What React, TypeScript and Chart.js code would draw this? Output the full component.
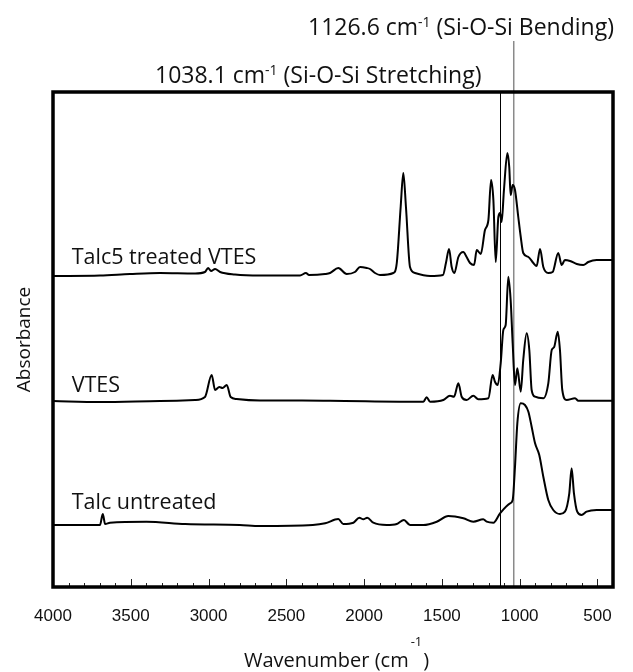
import React, { useEffect, useRef } from 'react';
import { Chart, registerables } from 'chart.js';

Chart.register(...registerables);

// Wavenumber (cm-1) and absorbance (arbitrary, offset)
const talc5Wavenumber = [4000, 3698, 3505, 3312, 3087, 3023, 3003, 2984, 2958, 2926, 2830, 2669, 2412, 2374, 2354, 2251, 2219, 2166, 2112, 2059, 2026, 1983, 1962, 1930, 1898, 1812, 1790, 1765, 1748, 1731, 1705, 1673, 1576, 1493, 1474, 1454, 1437, 1420, 1394, 1362, 1341, 1319, 1293, 1276, 1250, 1223, 1201, 1184, 1169, 1154, 1137, 1126, 1116, 1101, 1079, 1067, 1058, 1045, 1030, 1009, 993, 977, 944, 912, 891, 869, 848, 816, 788, 752, 730, 709, 676, 633, 591, 559, 505, 400];
const talc5Absorbance = [3.11, 3.115, 3.13, 3.14, 3.135, 3.15, 3.19, 3.16, 3.18, 3.15, 3.125, 3.115, 3.115, 3.14, 3.12, 3.13, 3.14, 3.19, 3.13, 3.15, 3.2, 3.19, 3.18, 3.14, 3.12, 3.14, 3.24, 3.8, 4.14, 3.8, 3.2, 3.14, 3.11, 3.12, 3.24, 3.38, 3.2, 3.14, 3.3, 3.35, 3.3, 3.24, 3.22, 3.37, 3.33, 3.57, 3.67, 4.07, 3.87, 3.25, 3.7, 3.74, 3.65, 3.97, 4.34, 4.2, 3.92, 4.02, 3.97, 3.7, 3.5, 3.34, 3.3, 3.24, 3.21, 3.38, 3.2, 3.14, 3.15, 3.34, 3.22, 3.27, 3.26, 3.23, 3.22, 3.25, 3.27, 3.27];

const vtesWavenumber = [4000, 3698, 3312, 3087, 3023, 2980, 2958, 2931, 2910, 2883, 2858, 2820, 2669, 2400, 2219, 1619, 1598, 1576, 1491, 1448, 1422, 1394, 1373, 1341, 1298, 1266, 1201, 1174, 1159, 1141, 1122, 1105, 1090, 1073, 1058, 1045, 1030, 1015, 993, 977, 955, 938, 923, 901, 848, 816, 794, 779, 755, 741, 726, 698, 644, 623, 400];
const vtesAbsorbance = [1.86, 1.85, 1.86, 1.87, 1.9, 2.12, 1.97, 2.0, 1.99, 2.02, 1.9, 1.88, 1.865, 1.865, 1.863, 1.853, 1.897, 1.853, 1.87, 1.913, 1.903, 2.037, 1.903, 1.87, 1.913, 1.877, 1.887, 2.12, 2.053, 2.02, 2.237, 2.57, 2.62, 3.103, 2.87, 2.437, 2.02, 2.187, 1.953, 2.27, 2.537, 2.37, 1.97, 1.903, 1.887, 2.037, 2.37, 2.397, 2.553, 2.37, 1.97, 1.87, 1.887, 1.863, 1.863];

const talcWavenumber = [4000, 3698, 3680, 3665, 3634, 3400, 3150, 2800, 2669, 2330, 2250, 2166, 2134, 2069, 2031, 2005, 1980, 1941, 1855, 1790, 1744, 1705, 1619, 1533, 1459, 1362, 1298, 1234, 1212, 1169, 1126, 1062, 1045, 1030, 1015, 993, 966, 944, 923, 901, 874, 848, 816, 784, 741, 709, 681, 666, 651, 630, 602, 570, 505, 400];
const talcAbsorbance = [0.62, 0.62, 0.73, 0.63, 0.643, 0.653, 0.63, 0.62, 0.61, 0.62, 0.637, 0.68, 0.63, 0.643, 0.693, 0.677, 0.693, 0.643, 0.62, 0.63, 0.67, 0.62, 0.62, 0.653, 0.71, 0.687, 0.653, 0.677, 0.653, 0.643, 0.737, 0.837, 0.87, 1.203, 1.637, 1.837, 1.82, 1.753, 1.603, 1.437, 1.32, 1.103, 0.87, 0.77, 0.73, 0.753, 0.937, 1.187, 0.937, 0.753, 0.72, 0.753, 0.77, 0.77];

const seriesNames = ['Talc5 treated VTES', 'VTES', 'Talc untreated'];
// label anchor (wavenumber, absorbance) for each curve's name
const labelWavenumber = [3880, 3880, 3880];
const labelAbsorbance = [3.23, 1.95, 0.78];

const bendingWavenumber = 1126.6;
const stretchingWavenumber = 1038.1;
const xTickLabels = [4000, 3500, 3000, 2500, 2000, 1500, 1000, 500];

const LABEL_FONT = '"Open Sans", "Noto Sans", sans-serif';

function toPoints(xs: number[], ys: number[]) {
  return xs.map((x, i) => ({ x, y: ys[i] }));
}

function drawSupText(ctx: CanvasRenderingContext2D, x: number, y: number, parts: [string, boolean][], size: number, supSize: number, supRise: number) {
  let cx = x;
  for (const [t, sup] of parts) {
    ctx.font = `${sup ? supSize : size}px ${LABEL_FONT}`;
    ctx.fillText(t, cx, sup ? y - supRise : y);
    cx += ctx.measureText(t).width;
  }
}

const overlayPlugin = {
  id: 'overlay',
  beforeDatasetsDraw(chart: any) {
    const { ctx, chartArea, scales } = chart;
    const x = scales.x;
    ctx.save();
    const xb = x.getPixelForValue(bendingWavenumber);
    ctx.strokeStyle = '#000';
    ctx.lineWidth = 1;
    ctx.beginPath();
    ctx.moveTo(Math.round(xb) + 0.5, chartArea.top);
    ctx.lineTo(Math.round(xb) + 0.5, chartArea.bottom);
    ctx.stroke();
    const xs = x.getPixelForValue(stretchingWavenumber);
    ctx.strokeStyle = '#8a8a8a';
    ctx.lineWidth = 1.5;
    ctx.beginPath();
    ctx.moveTo(xs, 41);
    ctx.lineTo(xs, chartArea.bottom);
    ctx.stroke();
    ctx.restore();
  },
  afterDraw(chart: any) {
    const { ctx, chartArea, scales } = chart;
    const x = scales.x;
    const y = scales.y;
    const { left, right, top, bottom } = chartArea;
    ctx.save();
    ctx.strokeStyle = '#222';
    ctx.lineWidth = 1;
    for (const t of x.ticks) {
      const px = Math.round(x.getPixelForValue(t.value)) + 0.5;
      const major = t.value % 500 === 0;
      ctx.beginPath();
      ctx.moveTo(px, bottom);
      ctx.lineTo(px, bottom - (major ? 8 : 4));
      ctx.stroke();
    }
    ctx.strokeStyle = '#000';
    ctx.lineWidth = 3.5;
    ctx.strokeRect(left, top, right - left, bottom - top);

    ctx.fillStyle = '#111';
    ctx.textBaseline = 'alphabetic';
    ctx.textAlign = 'left';
    ctx.font = `21.5px ${LABEL_FONT}`;
    seriesNames.forEach((n, i) => {
      ctx.fillText(n, x.getPixelForValue(labelWavenumber[i]), y.getPixelForValue(labelAbsorbance[i]));
    });

    drawSupText(ctx, 308, 35, [['1126.6 cm', false], ['-1', true], [' (Si-O-Si Bending)', false]], 23, 14, 8);
    drawSupText(ctx, 155, 83, [['1038.1 cm', false], ['-1', true], [' (Si-O-Si Stretching)', false]], 23, 14, 8);

    ctx.font = `20px ${LABEL_FONT}`;
    ctx.fillText('Wavenumber (cm', 244, 667);
    const w = ctx.measureText('Wavenumber (cm').width;
    ctx.font = `13px ${LABEL_FONT}`;
    ctx.fillText('-1', 244 + w + 2, 646);
    const w2 = ctx.measureText('-1').width;
    ctx.font = `20px ${LABEL_FONT}`;
    ctx.fillText(')', 244 + w + w2 + 3, 667);
    ctx.restore();
  },
};

export default function App() {
  const ref = useRef<HTMLCanvasElement>(null);
  useEffect(() => {
    document.body.style.margin = '0';
    const canvas = ref.current;
    if (!canvas) return;
    const lineStyle = { borderColor: '#000', borderWidth: 2, pointRadius: 0, cubicInterpolationMode: 'monotone' as const, fill: false };
    const chart = new Chart(canvas, {
      type: 'line',
      data: {
        datasets: [
          { label: seriesNames[0], data: toPoints(talc5Wavenumber, talc5Absorbance), ...lineStyle },
          { label: seriesNames[1], data: toPoints(vtesWavenumber, vtesAbsorbance), ...lineStyle },
          { label: seriesNames[2], data: toPoints(talcWavenumber, talcAbsorbance), ...lineStyle },
        ],
      },
      options: {
        animation: false,
        responsive: true,
        maintainAspectRatio: false,
        layout: { padding: { left: 0, right: 20, top: 92, bottom: 0 } },
        plugins: { legend: { display: false }, tooltip: { enabled: false } },
        scales: {
          x: {
            type: 'linear',
            reverse: true,
            min: 400,
            max: 4000,
            grid: { display: false, drawTicks: false },
            border: { display: false },
            ticks: {
              stepSize: 100,
              autoSkip: false,
              maxRotation: 0,
              padding: 19,
              color: '#111',
              font: { family: '"Liberation Sans", Arial, sans-serif', size: 17 },
              callback: (v: any) => (xTickLabels.includes(Number(v)) ? String(v) : ''),
            },
            afterFit: (s: any) => { s.height = 85; },
          },
          y: {
            type: 'linear',
            min: 0,
            max: 4.95,
            grid: { display: false, drawTicks: false },
            border: { display: false },
            ticks: { display: false },
            title: {
              display: true,
              text: 'Absorbance',
              color: '#111',
              font: { family: LABEL_FONT, size: 19 },
              padding: { top: 13, bottom: 0 },
            },
            afterFit: (s: any) => { s.width = 53; },
          },
        },
      },
      plugins: [overlayPlugin],
    });
    return () => chart.destroy();
  }, []);
  return (
    <div style={{ position: 'relative', width: 633, height: 672 }}>
      <canvas ref={ref} />
    </div>
  );
}
